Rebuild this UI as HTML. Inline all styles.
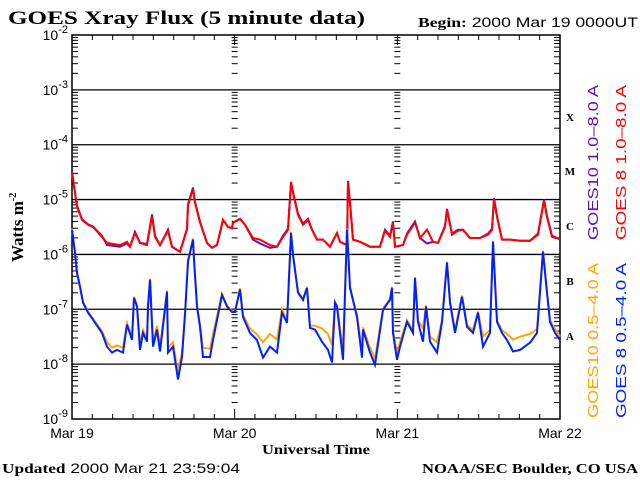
<!DOCTYPE html>
<html><head><meta charset="utf-8">
<style>
html,body{margin:0;padding:0;background:#fff;}
svg{display:block;}
text{font-family:"Liberation Sans",sans-serif;}
.serif{font-family:"Liberation Serif",serif;font-weight:bold;}
</style></head>
<body>
<svg id="chart" width="640" height="480" viewBox="0 0 640 480" xmlns="http://www.w3.org/2000/svg">
<rect width="640" height="480" fill="#fff"/>
<text class="serif" x="8" y="24" font-size="19" textLength="357" lengthAdjust="spacingAndGlyphs">GOES Xray Flux (5 minute data)</text>
<text x="418" y="27" font-size="14" textLength="220" lengthAdjust="spacingAndGlyphs"><tspan class="serif">Begin:</tspan> 2000 Mar 19 0000UT</text>
<g id="axes"></g>
<g id="series"></g>
<text class="serif" transform="translate(23,262) rotate(-90)" font-size="17">Watts m<tspan font-size="10" dy="-7">-2</tspan></text>
<text class="serif" x="316" y="454" font-size="14" text-anchor="middle" textLength="108" lengthAdjust="spacingAndGlyphs">Universal Time</text>
<text x="2" y="473" font-size="14" textLength="238" lengthAdjust="spacingAndGlyphs"><tspan class="serif">Updated</tspan> 2000 Mar 21 23:59:04</text>
<text class="serif" x="422" y="473" font-size="14" textLength="216" lengthAdjust="spacingAndGlyphs">NOAA/SEC Boulder, CO USA</text>
<g font-size="14" text-anchor="middle">
<text class="serif" x="570" y="121" font-size="11">X</text>
<text class="serif" x="570" y="175" font-size="11">M</text>
<text class="serif" x="570" y="230" font-size="11">C</text>
<text class="serif" x="570" y="285" font-size="11">B</text>
<text class="serif" x="570" y="340" font-size="11">A</text>
</g>
<text transform="translate(598,240) rotate(-90)" font-size="15" fill="#6010c0" textLength="155" lengthAdjust="spacingAndGlyphs">GOES10 1.0–8.0 A</text>
<text transform="translate(626,240) rotate(-90)" font-size="15" fill="#ff0000" textLength="155" lengthAdjust="spacingAndGlyphs">GOES 8 1.0–8.0 A</text>
<text transform="translate(598,418) rotate(-90)" font-size="15" fill="#ffa500" textLength="155" lengthAdjust="spacingAndGlyphs">GOES10 0.5–4.0 A</text>
<text transform="translate(626,418) rotate(-90)" font-size="15" fill="#0020ff" textLength="155" lengthAdjust="spacingAndGlyphs">GOES 8 0.5–4.0 A</text>
</svg>
<script>
const decades = [-2,-3,-4,-5,-6,-7,-8,-9];
const dayLabels = ["Mar 19","Mar 20","Mar 21","Mar 22"];
// hours since 2000 Mar 19 00UT, and log10 flux
const longHours = [0,0.74,1.48,2.36,3.10,4.43,5.16,7.08,8.11,8.56,9.29,10.03,11.06,11.80,12.25,12.98,14.16,14.75,15.93,16.97,17.11,17.85,18.15,18.89,19.92,20.66,21.39,22.28,23.02,23.61,23.75,24.78,25.52,26.71,27.74,29.21,30.25,31.13,31.87,32.31,32.61,33.34,34.08,34.82,35.41,36.15,37.03,38.07,39.10,39.54,40.57,40.72,41.02,41.46,42.49,43.97,45.44,46.18,46.92,47.36,47.66,48.84,49.43,50.61,51.34,52.38,53.26,54.00,55.03,55.33,56.07,56.95,57.69,58.72,60.20,61.38,61.97,62.26,62.71,63.44,64.62,66.10,67.57,68.75,69.64,70.08,70.82,72.0];
const goes8Long = [-4.51,-5.13,-5.37,-5.46,-5.50,-5.68,-5.79,-5.83,-5.77,-5.86,-5.61,-5.79,-5.83,-5.30,-5.68,-5.83,-5.57,-5.86,-5.95,-5.55,-5.10,-4.81,-5.06,-5.42,-5.79,-5.88,-5.83,-5.37,-5.50,-5.52,-5.42,-5.35,-5.46,-5.70,-5.73,-5.83,-5.86,-5.68,-5.55,-4.68,-4.88,-5.28,-5.46,-5.37,-5.55,-5.73,-5.73,-5.86,-5.61,-5.77,-5.83,-4.68,-5.06,-5.73,-5.77,-5.86,-5.86,-5.57,-5.68,-5.42,-5.86,-5.83,-5.64,-5.42,-5.70,-5.55,-5.77,-5.79,-5.50,-5.19,-5.64,-5.57,-5.55,-5.70,-5.70,-5.64,-5.55,-4.99,-5.32,-5.73,-5.73,-5.75,-5.75,-5.64,-5.02,-5.32,-5.68,-5.72];
const goes10Long = [-4.49,-5.11,-5.36,-5.45,-5.49,-5.66,-5.83,-5.86,-5.80,-5.86,-5.59,-5.79,-5.81,-5.27,-5.66,-5.83,-5.55,-5.86,-5.95,-5.53,-5.08,-4.78,-5.04,-5.40,-5.79,-5.88,-5.83,-5.37,-5.50,-5.52,-5.42,-5.35,-5.46,-5.73,-5.80,-5.88,-5.86,-5.66,-5.53,-4.68,-4.86,-5.26,-5.44,-5.35,-5.55,-5.73,-5.73,-5.86,-5.61,-5.77,-5.83,-4.66,-5.04,-5.73,-5.77,-5.86,-5.86,-5.55,-5.66,-5.40,-5.86,-5.83,-5.62,-5.40,-5.70,-5.80,-5.77,-5.79,-5.48,-5.17,-5.62,-5.55,-5.55,-5.70,-5.70,-5.62,-5.53,-4.97,-5.30,-5.73,-5.73,-5.75,-5.75,-5.62,-5.00,-5.30,-5.66,-5.72];
const shortHours = [0,0.44,0.74,1.18,1.62,2.36,3.10,4.43,5.16,5.90,6.64,7.52,8.11,8.85,9.15,9.59,10.03,10.48,11.06,11.21,11.51,11.95,12.54,12.98,14.02,14.16,14.90,15.49,15.64,16.23,16.67,17.11,17.85,18.0,18.44,18.89,19.33,20.36,20.80,22.13,22.87,23.61,24.05,24.78,25.23,26.26,27.30,28.18,29.21,30.25,30.98,31.72,32.31,32.61,33.34,34.08,34.67,35.11,35.85,36.88,37.77,38.36,38.80,39.10,39.98,40.57,41.02,42.05,42.79,42.93,43.97,44.70,45.89,46.92,47.21,47.36,47.95,48.39,49.43,50.31,50.61,51.05,51.79,52.23,52.82,53.85,54.59,55.33,55.77,56.51,57.54,58.28,59.16,59.90,60.64,61.67,62.12,62.71,63.44,64.18,65.06,66.10,67.57,68.61,69.49,70.08,70.52,71.26,72.0];
const goes8Short = [-5.55,-5.97,-6.34,-6.59,-6.88,-7.06,-7.19,-7.43,-7.68,-7.79,-7.74,-7.79,-7.28,-7.56,-6.79,-6.95,-7.74,-7.43,-7.59,-6.95,-6.46,-7.68,-7.37,-7.77,-6.68,-7.79,-7.68,-8.16,-8.28,-7.87,-7.10,-6.13,-5.73,-6.10,-6.95,-7.32,-7.87,-7.87,-7.56,-6.74,-6.95,-7.05,-7.05,-6.64,-7.14,-7.43,-7.56,-7.88,-7.68,-7.79,-7.06,-7.25,-5.61,-6.01,-6.70,-6.83,-6.61,-7.34,-7.37,-7.59,-7.74,-7.97,-6.88,-6.95,-7.92,-5.55,-6.61,-7.14,-7.88,-7.37,-7.79,-8.01,-7.01,-6.83,-6.61,-7.43,-7.92,-7.68,-7.23,-7.43,-6.43,-7.23,-7.59,-6.95,-7.59,-7.79,-7.23,-6.15,-6.88,-7.43,-6.77,-7.32,-7.43,-7.06,-7.68,-7.43,-5.77,-7.23,-7.43,-7.56,-7.77,-7.74,-7.61,-7.43,-5.95,-6.70,-7.23,-7.43,-7.56];
const goes10Short = [-5.53,-5.95,-6.32,-6.57,-6.86,-7.04,-7.17,-7.40,-7.60,-7.70,-7.66,-7.70,-7.25,-7.50,-6.77,-6.93,-7.66,-7.38,-7.52,-6.93,-6.44,-7.60,-7.30,-7.68,-6.66,-7.70,-7.60,-8.05,-8.10,-7.80,-7.06,-6.11,-5.71,-6.08,-6.93,-7.28,-7.70,-7.72,-7.45,-6.72,-6.93,-7.03,-7.03,-6.62,-7.10,-7.35,-7.46,-7.60,-7.45,-7.55,-7.00,-7.21,-5.59,-5.99,-6.68,-6.81,-6.59,-7.30,-7.30,-7.35,-7.45,-7.65,-6.86,-6.93,-7.75,-5.53,-6.59,-7.10,-7.75,-7.33,-7.70,-7.90,-6.99,-6.81,-6.59,-7.40,-7.80,-7.60,-7.20,-7.38,-6.41,-7.20,-7.35,-6.93,-7.50,-7.60,-7.20,-6.13,-6.86,-7.38,-6.75,-7.28,-7.38,-7.04,-7.50,-7.38,-5.75,-7.20,-7.38,-7.45,-7.55,-7.50,-7.45,-7.36,-5.93,-6.68,-7.20,-7.36,-7.50];

const X0=72, X1=560, Y0=35, Y1=419, H=72;
const xs = h => X0 + (X1-X0)*h/H;
const ys = v => Y0 + (Y1-Y0)*(-2 - v)/7;
const NS="http://www.w3.org/2000/svg";
function mk(tag, attrs, parent){const e=document.createElementNS(NS,tag);for(const k in attrs)e.setAttribute(k,attrs[k]);parent.appendChild(e);return e;}
const axes=document.getElementById('axes');
const series=document.getElementById('series');

const frame = mk('rect',{x:X0,y:Y0,width:X1-X0,height:Y1-Y0,fill:'none',stroke:'#000','stroke-width':1.5},axes);



decades.forEach((d,i)=>{
  const y=ys(d);
  if(i>0 && i<decades.length-1){
    const l=mk('line',{x1:X0,x2:X1,y1:y,y2:y,stroke:'#000','stroke-width':1.3},axes);
    
    
  }
  const t=mk('text',{x:X0-4,y:y+5,'font-size':14,'text-anchor':'end'},axes);
  
  
  t.innerHTML='10<tspan font-size="11" dy="-7">'+d+'</tspan>';
  if(i<decades.length-1){
    for(let m=2;m<=9;m++){
      const ym=ys(d-1+Math.log10(m));
      [[X0,X0+6],[X1-6,X1],[xs(24)-3,xs(24)+3],[xs(48)-3,xs(48)+3]].forEach(p=>{
        const tk=mk('line',{x1:p[0],x2:p[1],y1:ym,y2:ym,stroke:'#000','stroke-width':1},axes);
        
        
      });
    }
  }
});
for(let h=0;h<=H;h+=3){
  const x=xs(h);
  const len = h%24===0?10:5;
  const a=mk('line',{x1:x,x2:x,y1:Y0,y2:Y0+len,stroke:'#000','stroke-width':1},axes);
  
  
  const b=mk('line',{x1:x,x2:x,y1:Y1,y2:Y1-len,stroke:'#000','stroke-width':1},axes);
  
  
}
dayLabels.forEach((s,i)=>{
  const t=mk('text',{x:xs(i*24),y:438,'font-size':14,'text-anchor':'middle'},axes);
  
  
  t.textContent=s;
});

function drawSeries(hours, vals, color, name){
  const pts = hours.map((h,i)=>xs(h).toFixed(1)+','+ys(vals[i]).toFixed(1)).join(' ');
  const p=mk('polyline',{points:pts,fill:'none',stroke:color,'stroke-width':2,'stroke-linejoin':'miter'},series);
  
  
}
drawSeries(longHours, goes10Long, '#6010c0', 'series-goes10-long');
drawSeries(longHours, goes8Long, '#ff0000', 'series-goes8-long');
drawSeries(shortHours, goes10Short, '#ffa500', 'series-goes10-short');
drawSeries(shortHours, goes8Short, '#0020ff', 'series-goes8-short');
</script>
</body></html>
